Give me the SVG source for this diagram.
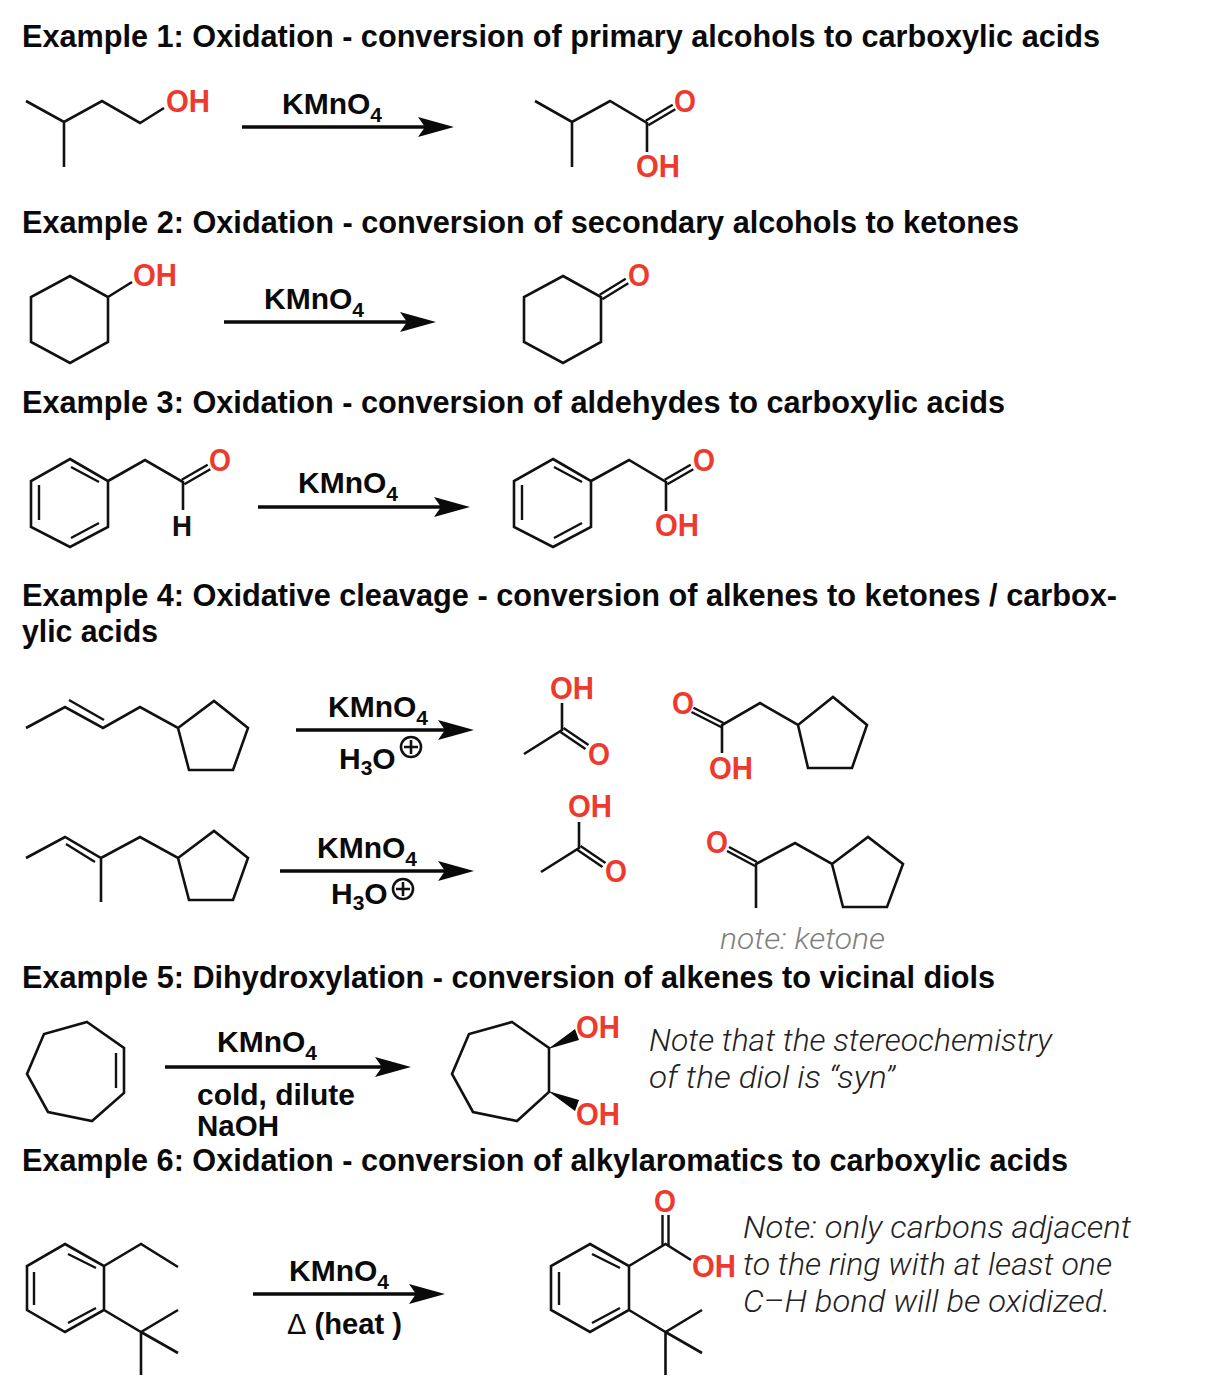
<svg xmlns="http://www.w3.org/2000/svg" width="1228" height="1394" viewBox="0 0 1228 1394">
<style>
text{font-family:"Liberation Sans",Arial,sans-serif}
.h{font-size:31.5px;font-weight:700;fill:#0a0a0a}
.r{font-size:30px;font-weight:700;fill:#111}
.a{font-size:30.5px;font-weight:700;fill:#ee3a2e}
.k{font-size:30px;font-weight:700;fill:#0a0a0a}
.sub{font-size:21px}
.n{font-family:"Roboto","Liberation Sans",sans-serif;font-size:31px;font-style:italic;font-weight:300;fill:#222}
.g{font-family:"Roboto","Liberation Sans",sans-serif;font-size:30px;font-style:italic;font-weight:300;fill:#808080}
.b{fill:none;stroke:#111;stroke-width:2.6;stroke-linejoin:miter;stroke-linecap:butt}
.t{stroke:#111;stroke-width:2.4;fill:none}
.ar{stroke:#0a0a0a;stroke-width:3.6;fill:none;marker-end:url(#head)}
.pl{fill:none;stroke:#111;stroke-width:2.6}
</style>
<defs>
<marker id="head" markerUnits="userSpaceOnUse" markerWidth="36" markerHeight="20" viewBox="0 0 36 20" refX="26" refY="10" orient="auto">
<path d="M0 0L36 10L0 20L7 10Z" fill="#0a0a0a"/>
</marker>
<g id="plus"><circle r="10" class="pl"/><path d="M-7 0H7M0-7V7" class="pl"/></g>
</defs>
<rect width="1228" height="1394" fill="#fff"/>
<g id="headings">
<text class="h" x="22" y="47" textLength="1078" lengthAdjust="spacingAndGlyphs">Example 1: Oxidation - conversion of primary alcohols to carboxylic acids</text>
<text class="h" x="22" y="233" textLength="997" lengthAdjust="spacingAndGlyphs">Example 2: Oxidation - conversion of secondary alcohols to ketones</text>
<text class="h" x="22" y="413" textLength="983" lengthAdjust="spacingAndGlyphs">Example 3: Oxidation - conversion of aldehydes to carboxylic acids</text>
<text class="h" x="22" y="606" textLength="1095" lengthAdjust="spacingAndGlyphs">Example 4: Oxidative cleavage - conversion of alkenes to ketones / carbox-</text>
<text class="h" x="22" y="642" textLength="136" lengthAdjust="spacingAndGlyphs">ylic acids</text>
<text class="h" x="22" y="988" textLength="973" lengthAdjust="spacingAndGlyphs">Example 5: Dihydroxylation - conversion of alkenes to vicinal diols</text>
<text class="h" x="22" y="1171" textLength="1046" lengthAdjust="spacingAndGlyphs">Example 6: Oxidation - conversion of alkylaromatics to carboxylic acids</text>
</g>
<g id="connectors">
<line class="ar" x1="242" y1="127" x2="444" y2="127"/>
<line class="ar" x1="224" y1="322" x2="426" y2="322"/>
<line class="ar" x1="258" y1="507" x2="460" y2="507"/>
<line class="ar" x1="296" y1="730" x2="464" y2="730"/>
<line class="ar" x1="280" y1="871" x2="464" y2="871"/>
<line class="ar" x1="165" y1="1067" x2="401" y2="1067"/>
<line class="ar" x1="253" y1="1294" x2="435" y2="1294"/>
</g>
<g id="reagents">
<text class="k" x="282" y="114" textLength="100" lengthAdjust="spacingAndGlyphs">KMnO<tspan class="sub" dy="8">4</tspan></text>
<text class="k" x="264" y="309" textLength="100" lengthAdjust="spacingAndGlyphs">KMnO<tspan class="sub" dy="8">4</tspan></text>
<text class="k" x="298" y="493" textLength="100" lengthAdjust="spacingAndGlyphs">KMnO<tspan class="sub" dy="8">4</tspan></text>
<text class="k" x="328" y="717" textLength="100" lengthAdjust="spacingAndGlyphs">KMnO<tspan class="sub" dy="8">4</tspan></text>
<text class="k" x="339" y="769">H<tspan class="sub" dy="6">3</tspan><tspan dy="-6">O</tspan></text>
<use href="#plus" x="411" y="747"/>
<text class="k" x="317" y="858" textLength="100" lengthAdjust="spacingAndGlyphs">KMnO<tspan class="sub" dy="8">4</tspan></text>
<text class="k" x="331" y="904">H<tspan class="sub" dy="6">3</tspan><tspan dy="-6">O</tspan></text>
<use href="#plus" x="403" y="889"/>
<text class="k" x="217" y="1052" textLength="100" lengthAdjust="spacingAndGlyphs">KMnO<tspan class="sub" dy="8">4</tspan></text>
<text class="k" x="197" y="1105" textLength="158" lengthAdjust="spacingAndGlyphs">cold, dilute</text>
<text class="k" x="197" y="1136" textLength="82" lengthAdjust="spacingAndGlyphs">NaOH</text>
<text class="k" x="289" y="1281" textLength="100" lengthAdjust="spacingAndGlyphs">KMnO<tspan class="sub" dy="8">4</tspan></text>
<text class="k" x="287" y="1334" textLength="115" lengthAdjust="spacingAndGlyphs"><tspan font-weight="400">Δ</tspan> (heat )</text>
</g>
<g id="mol1a">
<path class="b" d="M26 101L64 122L102 101L140 123L164 108M64 122V167"/>
<text class="a" x="166" y="112" textLength="44" lengthAdjust="spacingAndGlyphs">OH</text>
</g>
<g id="mol1b">
<path class="b" d="M535 101L572 122L610 101L647 123V152M572 122V167"/>
<path class="t" d="M645.7 120.8L672.7 104.8M648.3 125.2L675.3 109.2"/>
<text class="a" x="674" y="112" textLength="22" lengthAdjust="spacingAndGlyphs">O</text>
<text class="a" x="636" y="177" textLength="44" lengthAdjust="spacingAndGlyphs">OH</text>
</g>
<g id="mol2a">
<path class="b" d="M70 276L108 297V342L70 363L31 342V297ZM108 297L132 282"/>
<text class="a" x="133" y="286" textLength="44" lengthAdjust="spacingAndGlyphs">OH</text>
</g>
<g id="mol2b">
<path class="b" d="M563 276L601 297V342L563 363L524 342V297Z"/>
<path class="t" d="M599.7 294.8L625.7 278.8M602.3 299.2L628.3 283.2"/>
<text class="a" x="628" y="286" textLength="22" lengthAdjust="spacingAndGlyphs">O</text>
</g>
<g id="mol3a">
<path class="b" d="M70 459L108 481V527L70 547L31 527V481ZM108 481L145 460L183 482V510"/>
<path class="t" d="M71 467L99 482M39 485V520M71 538L99 523"/>
<path class="t" d="M181.7 479.8L207.7 464.8M184.3 484.2L210.3 469.2"/>
<text class="a" x="209" y="471" textLength="22" lengthAdjust="spacingAndGlyphs">O</text>
<text class="r" x="172" y="536" textLength="20" lengthAdjust="spacingAndGlyphs">H</text>
</g>
<g id="mol3b">
<path class="b" d="M553 459L591 481V527L553 547L514 527V481ZM591 481L629 460L666 482V511"/>
<path class="t" d="M554 467L582 482M522 485V520M554 538L582 523"/>
<path class="t" d="M664.7 479.8L690.7 464.8M667.3 484.2L693.3 469.2"/>
<text class="a" x="693" y="471" textLength="22" lengthAdjust="spacingAndGlyphs">O</text>
<text class="a" x="655" y="536" textLength="44" lengthAdjust="spacingAndGlyphs">OH</text>
</g>
<g id="mol4a">
<path class="b" d="M26 728L65 707L103 728L140 707L178 728L214 701L248 728L233 770H189L178 728"/>
<path class="t" d="M69 700L104 720"/>
</g>
<g id="mol4b">
<path class="b" d="M524 754L562 730V703"/>
<path class="t" d="M560.5 732L585.5 749M563.5 728L588.5 745"/>
<text class="a" x="550" y="699" textLength="44" lengthAdjust="spacingAndGlyphs">OH</text>
<text class="a" x="588" y="765" textLength="22" lengthAdjust="spacingAndGlyphs">O</text>
</g>
<g id="mol4c">
<path class="b" d="M722 753V725L760 703L798 725L833 697L867 725L852 768H808L798 725"/>
<path class="t" d="M693.5 707.8L723.5 723M691.5 712L721.5 727.2"/>
<text class="a" x="672" y="714" textLength="22" lengthAdjust="spacingAndGlyphs">O</text>
<text class="a" x="709" y="779" textLength="44" lengthAdjust="spacingAndGlyphs">OH</text>
</g>
<g id="mol4d">
<path class="b" d="M26 858L65 837L101 858L140 837L178 858L214 831L248 858L233 900H189L178 858M101 858V902"/>
<path class="t" d="M66 844L95 862"/>
</g>
<g id="mol4e">
<path class="b" d="M541 872L579 848V822"/>
<path class="t" d="M577.5 850L602.5 867M580.5 846L605.5 863"/>
<text class="a" x="568" y="817" textLength="44" lengthAdjust="spacingAndGlyphs">OH</text>
<text class="a" x="605" y="882" textLength="22" lengthAdjust="spacingAndGlyphs">O</text>
</g>
<g id="mol4f">
<path class="b" d="M756 908V864L795 843L832 864L868 837L903 864L887 907H843L832 864"/>
<path class="t" d="M729 847L757 862M727 851L755 866"/>
<text class="a" x="706" y="853" textLength="22" lengthAdjust="spacingAndGlyphs">O</text>
<text class="g" x="720" y="949" textLength="165" lengthAdjust="spacingAndGlyphs">note: ketone</text>
</g>
<g id="mol5a">
<path class="b" d="M87 1022L124 1048V1093L92 1121L48 1112L27 1074L44 1034Z"/>
<path class="t" d="M116 1053V1088"/>
</g>
<g id="mol5b">
<path class="b" d="M512 1022L549 1048V1092L517 1121L473 1112L452 1074L469 1034Z"/>
<path d="M548 1049L575 1029L579 1040ZM548 1091L579 1100L575 1111Z" fill="#0a0a0a"/>
<text class="a" x="576" y="1038" textLength="44" lengthAdjust="spacingAndGlyphs">OH</text>
<text class="a" x="576" y="1125" textLength="44" lengthAdjust="spacingAndGlyphs">OH</text>
<text class="n" x="649" y="1051" textLength="403" lengthAdjust="spacingAndGlyphs">Note that the stereochemistry</text>
<text class="n" x="649" y="1088" textLength="246" lengthAdjust="spacingAndGlyphs">of the diol is “syn”</text>
</g>
<g id="mol6a">
<path class="b" d="M65 1244L104 1266V1310L65 1332L27 1310V1266ZM104 1266L141 1244L178 1267M104 1310L141 1332L178 1310M141 1332L178 1353M141 1332V1375"/>
<path class="t" d="M68 1254L96 1268M34 1272V1305M68 1323L96 1308"/>
</g>
<g id="mol6b">
<path class="b" d="M590 1244L629 1266V1310L590 1332L551 1310V1266ZM629 1266L665.5 1244L691 1260M629 1310L665.5 1332L702 1310M665.5 1332L702 1353M665.5 1332V1375"/>
<path class="t" d="M592 1254L620 1268M559 1272V1305M592 1323L620 1308M662.5 1215V1245M668.5 1215V1245"/>
<text class="a" x="654" y="1212" textLength="22" lengthAdjust="spacingAndGlyphs">O</text>
<text class="a" x="692" y="1277" textLength="44" lengthAdjust="spacingAndGlyphs">OH</text>
<text class="n" x="743" y="1238" textLength="388" lengthAdjust="spacingAndGlyphs">Note: only carbons adjacent</text>
<text class="n" x="743" y="1275" textLength="369" lengthAdjust="spacingAndGlyphs">to the ring with at least one</text>
<text class="n" x="743" y="1312" textLength="367" lengthAdjust="spacingAndGlyphs">C–H bond will be oxidized.</text>
</g>
</svg>
